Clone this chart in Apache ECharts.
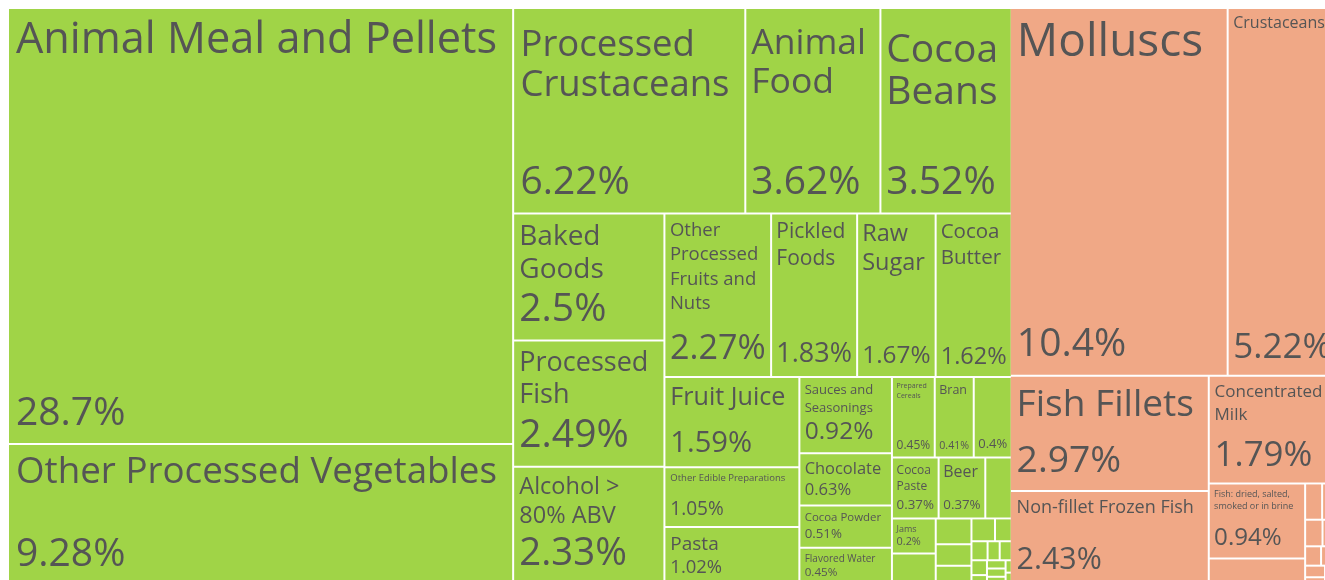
<!DOCTYPE html>
<html>
<head>
<meta charset="utf-8">
<script src="https://cdn.jsdelivr.net/npm/echarts@6/dist/echarts.min.js"></script>
<style>
html,body{margin:0;padding:0;background:#ffffff;overflow:hidden;}
#chart{width:1325px;height:580px;}
</style>
</head>
<body>
<div id="chart"></div>
<script>
// ---------------- data ----------------
const groupNames = ['Foodstuffs', 'Animal Products'];

const foodNames = [
  'Animal Meal and Pellets', 'Other Processed Vegetables', 'Processed Crustaceans', 'Animal Food',
  'Cocoa Beans', 'Baked Goods', 'Processed Fish', 'Alcohol > 80% ABV',
  'Other Processed Fruits and Nuts', 'Pickled Foods', 'Raw Sugar', 'Cocoa Butter',
  'Fruit Juice', 'Other Edible Preparations', 'Pasta', 'Sauces and Seasonings',
  'Chocolate', 'Cocoa Powder', 'Prepared Cereals', 'Flavored Water',
  'Bran', 'Sugar Confectionery', 'Beer', 'Cocoa Paste',
  'Processed Tomatoes', 'Jams', 'Coffee and Tea Extracts', 'Soups and Broths',
  'Tapioca', 'Yeast', 'Vinegar', 'Malt Extract',
  'Hard Liquor', 'Ice Cream', 'Wine', 'Cocoa Shells',
  'Starch Residue', 'Homogenized Composite Food Preparations', 'Other Sugars', 'Rolled Tobacco',
  'Processed Mushrooms', 'Wine Lees'
];
const foodValues = [
  28.7, 9.28, 6.22, 3.62,
  3.52, 2.5, 2.49, 2.33,
  2.27, 1.83, 1.67, 1.62,
  1.59, 1.05, 1.02, 0.92,
  0.63, 0.51, 0.45, 0.45,
  0.41, 0.4, 0.37, 0.37,
  0.21, 0.2, 0.18, 0.12,
  0.1, 0.09, 0.07, 0.05,
  0.04, 0.03, 0.03, 0.03,
  0.02, 0.02, 0.02, 0.02,
  0.01, 0.01
];

const animalNames = [
  'Molluscs', 'Crustaceans', 'Fish Fillets', 'Non-fillet Frozen Fish',
  'Concentrated Milk', 'Fish: dried, salted, smoked or in brine', 'Non-fillet Fresh Fish', 'Live Fish',
  'Bird Eggs', 'Honey', 'Cheese', 'Butter',
  'Poultry Meat', 'Bovine', 'Other Meat', 'Horses', 'Edible Offal'
];
const animalValues = [
  10.4, 5.22, 2.97, 2.43,
  1.79, 0.94, 0.33, 0.08,
  0.07, 0.06, 0.05, 0.04,
  0.04, 0.03, 0.02, 0.02, 0.01
];

// ---------------- styles ----------------
const groupColors = ['#a0d447', '#f0a886'];
const TEXT_COLOR = '#555555';
const FONT = "'Open Sans', sans-serif";

const measureCtx = document.createElement('canvas').getContext('2d');
function tw(text, size) {
  measureCtx.font = size + 'px ' + FONT;
  return measureCtx.measureText(text).width;
}
function wrapText(text, size, maxW) {
  const words = text.split(' ');
  const lines = [];
  let cur = '';
  for (const w of words) {
    const t = cur ? cur + ' ' + w : w;
    if (!cur || tw(t, size) <= maxW) cur = t;
    else { lines.push(cur); cur = w; }
  }
  if (cur) lines.push(cur);
  return lines;
}
function wordsFit(text, size, maxW) {
  return text.split(' ').every(w => tw(w, size) <= maxW);
}
function lineH(f) {
  return f <= 24 ? f + Math.min(0.35 * f, 6) : f + Math.max(0.07 * f, 6 - (f - 24) * 0.25);
}

function computeLabel(name, pctText, w, h) {
  if (w < 30 || h < 30) return { show: false };
  const pad = 3 + Math.min(4, w / 70);
  const innerW = w - 2 * pad;
  const fitW = innerW - Math.min(0.06 * w, 8);
  const pf = Math.min(39, innerW / (tw(pctText, 100) / 100), h * 0.33);
  if (pf < 7) return { show: false };
  const pLH = pf * 1.2;
  const padBot = 3 + 0.08 * pf;
  const NMAX = 46, NMIN = 6;
  let nf = 0, lines = null, padTop = 3;
  for (let s = NMAX; s >= NMIN; s -= 0.5) {
    if (!wordsFit(name, s, fitW)) continue;
    const L = wrapText(name, s, fitW);
    const pt = Math.max(2, 0.65 * s + 4 - lineH(s) / 2);
    if (pt + L.length * lineH(s) + pLH + padBot <= h) { nf = s; lines = L; break; }
  }
  const f1 = Math.min(NMAX, fitW / (tw(name, 100) / 100));
  const pt1 = Math.max(2, 0.65 * f1 + 4 - lineH(f1) / 2);
  const f1ok = f1 >= NMIN && pt1 + lineH(f1) + pLH + padBot <= h;
  if (f1ok && (!nf || f1 >= 0.9 * nf)) { nf = f1; lines = [name]; }
  let parts = [];
  let used = 0;
  if (nf) {
    padTop = Math.max(2, 0.65 * nf + 4 - lineH(nf) / 2);
    // multi-line big names sit a little lower
    if (lines.length > 1 && nf > 30) padTop += (nf - 30) * 1.4;
    parts = lines.map(l => '{n|' + l + '}');
    used = padTop + lines.length * lineH(nf);
  } else {
    padTop = 0;
  }
  const spacer = h - padBot - pLH - used;
  if (spacer >= 1) parts.push('{s| }');
  parts.push('{p|' + pctText + '}');
  return {
    show: true,
    position: [pad, padTop],
    align: 'left',
    verticalAlign: 'top',
    overflow: 'none',
    padding: 0,
    formatter: parts.join('\n'),
    rich: {
      n: { fontSize: nf || 10, lineHeight: lineH(nf || 10), fontFamily: FONT, color: TEXT_COLOR },
      s: { fontSize: 1, lineHeight: Math.max(1, spacer), fontFamily: FONT },
      p: { fontSize: pf, lineHeight: pLH, fontFamily: FONT, color: TEXT_COLOR }
    }
  };
}

function buildData(labelMap) {
  const groups = [[foodNames, foodValues], [animalNames, animalValues]];
  return groups.map((g, gi) => ({
    name: groupNames[gi],
    itemStyle: { color: groupColors[gi], borderColor: '#ffffff', borderWidth: 0, gapWidth: 2 },
    children: g[0].map((n, i) => ({
      name: n,
      value: g[1][i],
      itemStyle: { color: groupColors[gi], borderWidth: 0 },
      label: (labelMap && labelMap[n]) ? labelMap[n] : { show: false }
    }))
  }));
}

function buildOption(data) {
  return {
    animation: false,
    backgroundColor: '#ffffff',
    tooltip: { show: false },
    series: [{
      type: 'treemap',
      left: 9, top: 9, width: 1327, height: 575,
      roam: false,
      nodeClick: false,
      breadcrumb: { show: false },
      visibleMin: 0,
      sort: 'desc',
      label: { show: true, color: TEXT_COLOR, fontFamily: FONT, overflow: 'none', padding: 0, distance: 0 },
      upperLabel: { show: false },
      emphasis: { disabled: true },
      itemStyle: { borderWidth: 0, gapWidth: 0, borderColor: '#ffffff' },
      levels: [
        { itemStyle: { borderWidth: 0, gapWidth: 0, borderColor: '#ffffff' } },
        { itemStyle: { borderWidth: 0, gapWidth: 2, borderColor: '#ffffff' } },
        { itemStyle: { borderWidth: 0, gapWidth: 0 } }
      ],
      data: data
    }]
  };
}

const chart = echarts.init(document.getElementById('chart'), null, { renderer: 'canvas' });
chart.setOption(buildOption(buildData(null)));

// read the library's own layout to size the labels
const valueByName = {};
foodNames.forEach((n, i) => { valueByName[n] = foodValues[i]; });
animalNames.forEach((n, i) => { valueByName[n] = animalValues[i]; });

const seriesData = chart.getModel().getSeriesByIndex(0).getData();
const labelMap = {};
for (let i = 0; i < seriesData.count(); i++) {
  const name = seriesData.getName(i);
  if (!(name in valueByName)) continue;
  const lay = seriesData.getItemLayout(i);
  if (!lay) continue;
  labelMap[name] = computeLabel(name, valueByName[name] + '%', lay.width, lay.height);
}
chart.setOption(buildOption(buildData(labelMap)), true);
</script>
</body>
</html>
